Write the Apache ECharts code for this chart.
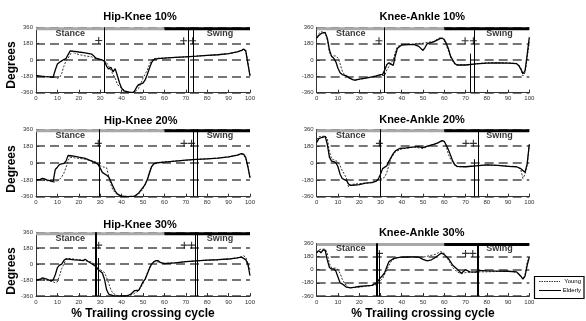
<!DOCTYPE html>
<html><head><meta charset="utf-8">
<script src="https://cdn.jsdelivr.net/npm/echarts@6/dist/echarts.min.js"></script>
<style>html,body{margin:0;padding:0;background:#fff}#c{width:586px;height:321px}</style>
</head><body><div id="c"></div>
<script>
const titles = ['Hip-Knee 10%','Knee-Ankle 10%','Hip-Knee 20%','Knee-Ankle 20%','Hip-Knee 30%','Knee-Ankle 30%'];
const xTickStep = 10;
const yTicks = [-360,-180,0,180,360];
const phaseLabels = [['Stance',16],['Swing',86]];
const legendNames = ['Young','Elderly'];
const xAxisTitle = '% Trailing crossing cycle';
const yAxisTitle = 'Degrees';

const hk10Elderly = [[0,-170],[2,-178],[4,-182],[6,-185],[8,-190],[9,-110],[10,-45],[11,-25],[12,-10],[13,5],[14,15],[15,60],[16,100],[18,95],[20,88],[23,78],[26,65],[27,45],[28,20],[30,8],[31,0],[32,-15],[33,-70],[34,-100],[35,-80],[36,-130],[37,-95],[38,-170],[39,-250],[40,-310],[41,-340],[43,-350],[45,-360],[46,-345],[47,-300],[48,-270],[50,-255],[51,-220],[52,-160],[53,-90],[54,-30],[55,5],[57,15],[60,20],[65,28],[70,35],[75,42],[80,50],[85,58],[90,70],[94,90],[96,105],[97,120],[98,105],[99,-40],[100,-175]];
const hk10Young = [[0,-172],[3,-178],[6,-183],[8,-188],[10,-200],[11,-195],[12,-150],[13,-70],[14,-10],[15,20],[16,60],[17,100],[18,75],[20,60],[23,45],[26,35],[29,5],[31,0],[32,-5],[33,-30],[35,-110],[36,-160],[37,-200],[38,-270],[40,-310],[42,-345],[44,-360],[46,-355],[48,-310],[49,-260],[50,-200],[52,-110],[53,-50],[54,0],[55,15],[57,20],[60,22],[65,28],[70,35],[75,42],[80,50],[85,58],[90,70],[94,88],[96,100],[97,115],[98,95],[99,-20],[100,-170]];
const ka10Elderly = [[0,240],[1,270],[2,290],[3,300],[4,300],[5,240],[6,110],[7,40],[8,20],[9,-20],[10,-90],[11,-140],[12,-160],[14,-175],[15,-190],[16,-205],[17,-215],[18,-222],[20,-210],[23,-200],[26,-185],[28,-175],[30,-160],[31,-158],[32,-110],[33,-50],[34,-30],[35,-45],[36,-60],[37,50],[38,130],[40,165],[43,170],[46,170],[48,150],[50,105],[51,140],[52,180],[55,200],[58,235],[59,240],[60,225],[61,180],[62,120],[63,40],[64,0],[65,-40],[66,-55],[70,-55],[75,-42],[80,-35],[85,-32],[90,-35],[94,-40],[95,-60],[96,-100],[97,-150],[98,-120],[99,60],[100,250]];
const ka10Young = [[0,250],[1,290],[2,310],[4,305],[5,220],[6,80],[7,40],[8,45],[9,45],[10,20],[11,-40],[12,-120],[13,-160],[14,-185],[16,-210],[18,-225],[20,-215],[23,-200],[26,-190],[30,-172],[32,-170],[33,-110],[34,-70],[35,-30],[36,0],[37,90],[38,150],[40,168],[45,178],[50,185],[55,205],[58,245],[59,245],[60,215],[62,100],[63,30],[64,-20],[65,-45],[66,-55],[70,-55],[75,-42],[80,-30],[85,-30],[90,-32],[94,-38],[95,-55],[96,-90],[97,-175],[98,-140],[99,20],[100,200]];
const hk20Elderly = [[0,-180],[2,-175],[3,-165],[4,-170],[5,-180],[7,-190],[8,-200],[9,-70],[10,-45],[11,-15],[13,-5],[14,20],[15,80],[17,75],[20,62],[23,50],[26,20],[28,0],[29,-15],[30,-55],[31,-100],[33,-130],[34,-150],[35,-200],[36,-250],[37,-300],[38,-330],[40,-355],[43,-360],[46,-355],[48,-320],[49,-290],[50,-260],[51,-230],[52,-180],[53,-110],[54,-40],[55,-10],[56,0],[60,10],[65,20],[70,30],[75,38],[80,45],[85,52],[90,65],[94,85],[96,100],[97,95],[98,60],[99,-40],[100,-160]];
const hk20Young = [[0,-182],[3,-185],[6,-190],[8,-205],[9,-200],[10,-190],[11,-175],[12,-150],[13,-110],[14,-50],[15,30],[16,60],[18,55],[20,50],[23,40],[26,25],[28,10],[29,-15],[30,-30],[31,-40],[32,-45],[33,-50],[34,-150],[35,-230],[36,-290],[38,-340],[40,-360],[45,-360],[47,-350],[48,-330],[50,-280],[51,-220],[52,-170],[53,-90],[54,-40],[55,-15],[57,5],[60,12],[65,20],[70,30],[75,38],[80,45],[85,52],[90,65],[94,82],[96,95],[97,90],[98,50],[99,-30],[100,-150]];
const ka20Elderly = [[0,220],[1,260],[2,270],[3,275],[4,285],[5,200],[6,60],[7,20],[8,15],[9,5],[10,-40],[11,-120],[12,-165],[13,-178],[14,-185],[15,-225],[16,-240],[18,-235],[20,-230],[23,-215],[26,-210],[28,-195],[29,-170],[30,-120],[31,-60],[33,-30],[34,20],[35,60],[36,100],[37,130],[39,155],[42,162],[45,170],[48,175],[50,165],[52,180],[55,200],[57,215],[59,240],[60,230],[61,190],[62,140],[63,80],[64,20],[65,-20],[66,-35],[70,-40],[75,-30],[80,-20],[85,-25],[90,-35],[94,-40],[96,-60],[97,-80],[98,-100],[99,-10],[100,200]];
const ka20Young = [[0,250],[1,280],[3,285],[4,290],[5,260],[6,120],[7,45],[8,35],[9,25],[10,10],[11,-30],[12,-80],[13,-120],[14,-160],[15,-255],[16,-230],[18,-225],[20,-220],[23,-215],[26,-205],[28,-190],[30,-170],[31,-165],[32,-150],[33,-100],[34,-20],[35,50],[37,120],[40,150],[43,160],[46,170],[50,155],[53,185],[56,205],[59,235],[60,230],[61,170],[62,90],[63,40],[64,10],[65,-25],[66,-40],[70,-40],[75,-28],[80,-22],[85,-25],[90,-32],[94,-38],[95,-50],[96,-70],[97,-165],[98,-120],[99,-20],[100,190]];
const hk30Elderly = [[0,-180],[2,-170],[3,-155],[5,-170],[7,-190],[8,-180],[9,-120],[10,-40],[11,-10],[12,0],[13,40],[14,60],[16,55],[18,48],[20,45],[22,40],[23,55],[24,35],[26,5],[28,-25],[29,-60],[30,-80],[31,-100],[32,-170],[33,-290],[34,-340],[36,-355],[40,-360],[42,-360],[44,-345],[46,-300],[48,-295],[49,-250],[50,-200],[51,-170],[52,-110],[53,-50],[54,0],[55,25],[56,40],[57,40],[58,20],[60,5],[65,15],[70,28],[75,38],[80,45],[85,50],[90,58],[94,72],[96,80],[97,65],[98,50],[99,0],[100,-130]];
const hk30Young = [[0,-180],[3,-178],[6,-185],[8,-200],[9,-210],[10,-200],[11,-130],[12,-50],[13,0],[14,55],[15,65],[17,60],[20,50],[23,40],[26,25],[28,-20],[30,-60],[31,-80],[32,-95],[33,-150],[34,-220],[35,-290],[36,-330],[38,-355],[40,-360],[44,-355],[46,-330],[48,-300],[50,-220],[51,-170],[52,-100],[53,-40],[54,0],[55,30],[57,25],[60,10],[65,15],[70,28],[75,38],[80,45],[85,50],[90,58],[94,70],[96,85],[97,95],[98,80],[99,10],[100,-60]];
const ka30Elderly = [[0,230],[1,260],[2,230],[3,270],[4,265],[5,130],[6,30],[7,10],[8,10],[9,-20],[10,-100],[11,-180],[12,-195],[13,-215],[14,-240],[16,-248],[18,-240],[20,-230],[23,-222],[26,-215],[28,-185],[29,-150],[30,-110],[31,-80],[32,-40],[33,40],[34,110],[36,150],[38,165],[40,170],[45,175],[48,170],[50,140],[52,120],[54,135],[56,170],[58,215],[59,225],[60,205],[62,150],[64,60],[66,10],[67,-20],[68,-50],[70,0],[72,-30],[75,-35],[76,-10],[80,-18],[85,-20],[90,-22],[94,-30],[95,-60],[96,-90],[97,-130],[98,-90],[99,60],[100,170]];
const ka30Young = [[0,240],[1,270],[2,280],[4,280],[5,220],[6,80],[7,25],[8,20],[9,20],[10,0],[11,-50],[12,-130],[13,-180],[14,-215],[15,-245],[18,-245],[20,-238],[23,-228],[26,-215],[28,-205],[29,-180],[30,-150],[31,-120],[32,-60],[33,0],[34,60],[35,110],[37,160],[40,170],[45,180],[48,175],[50,170],[53,190],[56,210],[58,245],[59,240],[60,220],[62,130],[64,30],[66,-30],[68,-55],[70,-40],[72,-35],[75,-30],[80,-30],[85,-25],[90,-20],[94,-35],[95,-55],[96,-90],[97,-130],[98,-70],[99,100],[100,180]];

// vertical event lines: [x, top value, bottom value]
const hk10Events = [[32,360,-360],[71.3,360,-360],[73.6,360,-360]];
const ka10Events = [[31.8,360,-360],[72.3,70,-360],[74.2,360,-360]];
const hk20Events = [[29.6,360,-360],[73.5,360,-360],[75.5,360,-360]];
const ka20Events = [[29.8,360,-360],[74.2,40,-360],[76,360,-360]];
const hk30Events = [[27.6,360,-360],[28.3,360,-360],[28.9,70,-360],[74.6,360,-360],[75.4,360,-360]];
const ka30Events = [[28,360,-360],[28.6,360,-360],[29.3,230,-360],[75.3,360,-360],[76,360,-360]];
// '+' markers
const hk10Marks = [[29.3,215],[69,212],[73.2,212]];
const ka10Marks = [[29.3,212],[69.8,212],[73.7,212]];
const hk20Marks = [[29.1,210],[69.2,210],[72.7,210]];
const ka20Marks = [[29.5,210],[70.2,210],[73.7,210]];
const hk30Marks = [[29.3,215],[69.3,215],[72.7,215]];
const ka30Marks = [[29.5,222],[70,222],[73.4,222]];
const stanceEnd = 60;

const FONT = '"Liberation Sans", Arial, Helvetica, sans-serif';
const layout = [
  {grid:{left:36,top:27.3,width:214,height:65.4}, tx:140, ty:16.7, yl:65, bottom:false, left:true},
  {grid:{left:316.7,top:27.3,width:212.6,height:65.4}, tx:422.3, ty:16.7, bottom:false, left:false},
  {grid:{left:36,top:129.3,width:214,height:67.4}, tx:140.8, ty:120.7, yl:169, bottom:false, left:true},
  {grid:{left:316.7,top:129.3,width:212.6,height:67.4}, tx:422, ty:120.3, bottom:false, left:false},
  {grid:{left:36,top:232.3,width:214,height:67}, tx:140, ty:225, yl:271, bottom:true, left:true},
  {grid:{left:316.7,top:243.3,width:212.6,height:56}, tx:421.7, ty:233.3, bottom:true, left:false}
];
const youngSets = [hk10Young,ka10Young,hk20Young,ka20Young,hk30Young,ka30Young];
const elderSets = [hk10Elderly,ka10Elderly,hk20Elderly,ka20Elderly,hk30Elderly,ka30Elderly];
const eventSets = [hk10Events,ka10Events,hk20Events,ka20Events,hk30Events,ka30Events];
const markSets = [hk10Marks,ka10Marks,hk20Marks,ka20Marks,hk30Marks,ka30Marks];

const plusPath = 'path://M0,42L100,42L100,58L0,58ZM42,0L58,0L58,100L42,100Z';
const grids=[], xAxes=[], yAxes=[], series=[], graphics=[];
layout.forEach((p,i)=>{
  grids.push(Object.assign({containLabel:false}, p.grid));
  xAxes.push({type:'value', gridIndex:i, min:0, max:100, interval:xTickStep,
    axisLine:{show:true,onZero:false,lineStyle:{color:'#333',width:1}},
    axisTick:{show:true,inside:true,length:3,lineStyle:{color:'#333'}},
    axisLabel:{fontSize:6,color:'#333',margin:3,fontFamily:FONT},
    splitLine:{show:false},
    name: p.bottom ? xAxisTitle : '', nameLocation:'middle', nameGap:12,
    nameTextStyle:{fontSize:12,fontWeight:'bold',color:'#000',fontFamily:FONT}});
  yAxes.push({type:'value', gridIndex:i, min:yTicks[0], max:yTicks[yTicks.length-1], interval:180,
    axisLine:{show:true,onZero:false,lineStyle:{color:'#333',width:1}},
    axisTick:{show:true,inside:true,length:3,lineStyle:{color:'#333'}},
    axisLabel:{fontSize:6,color:'#333',margin:3,fontFamily:FONT},
    splitLine:{show:true,lineStyle:{color:'#4a4a4a',type:[9,5],width:1.5}}});
  series.push({type:'line', name:legendNames[0], xAxisIndex:i, yAxisIndex:i, data:youngSets[i], symbol:'none', silent:true, z:3,
    lineStyle:{color:'#333',width:1,type:[2,1.5]}});
  series.push({type:'line', name:legendNames[1], xAxisIndex:i, yAxisIndex:i, data:elderSets[i], symbol:'none', silent:true, z:4,
    lineStyle:{color:'#000',width:1.3}});
  series.push({type:'line', xAxisIndex:i, yAxisIndex:i, data:[[0,345],[stanceEnd,345]], symbol:'none', silent:true, z:5,
    lineStyle:{color:'#a8a8a8',width:3,cap:'butt'}});
  series.push({type:'line', xAxisIndex:i, yAxisIndex:i, data:[[stanceEnd,345],[100,345]], symbol:'none', silent:true, z:5,
    lineStyle:{color:'#000',width:3,cap:'butt'}});
  series.push({type:'lines', coordinateSystem:'cartesian2d', xAxisIndex:i, yAxisIndex:i, silent:true, z:6,
    data: eventSets[i].map(e=>({coords:[[e[0],e[1]],[e[0],e[2]]]})),
    lineStyle:{color:'#000',width:1,opacity:1}});
  series.push({type:'scatter', xAxisIndex:i, yAxisIndex:i, data:markSets[i], symbol:plusPath, symbolSize:7, silent:true, z:7,
    itemStyle:{color:'#000'}});
  series.push({type:'scatter', xAxisIndex:i, yAxisIndex:i, silent:true, z:8, symbolSize:1,
    data: phaseLabels.map(l=>({value:[l[1],290], name:l[0]})),
    itemStyle:{color:'transparent'},
    label:{show:true, position:'inside', formatter:'{b}', fontSize:9, fontWeight:'bold', color:'#000', fontFamily:FONT}});
  graphics.push({type:'text', x:p.tx, y:p.ty, silent:true,
    style:{text:titles[i], font:'bold 11px '+FONT, fill:'#000', align:'center', verticalAlign:'middle', textAlign:'center', textVerticalAlign:'middle'}});
  if (p.left) {
    graphics.push({type:'text', x:12, y:p.yl, rotation:Math.PI/2, silent:true,
      style:{text:yAxisTitle, font:'bold 12px '+FONT, fill:'#000', align:'center', verticalAlign:'middle', textAlign:'center', textVerticalAlign:'middle'}});
  }
});
// legend box
graphics.push({type:'rect', shape:{x:534.5,y:276.5,width:49.5,height:22}, style:{fill:'#fff',stroke:'#000',lineWidth:1.2}, z:100});
graphics.push({type:'line', shape:{x1:539,y1:281.5,x2:560,y2:281.5}, style:{stroke:'#333',lineWidth:1,lineDash:[1.5,1]}, z:101});
graphics.push({type:'line', shape:{x1:539,y1:290.5,x2:561,y2:290.5}, style:{stroke:'#000',lineWidth:1}, z:101});
graphics.push({type:'text', x:581, y:281.7, z:101, style:{text:legendNames[0], font:'6px '+FONT, fill:'#000', align:'right', verticalAlign:'middle', textAlign:'right', textVerticalAlign:'middle'}});
graphics.push({type:'text', x:581, y:290.7, z:101, style:{text:legendNames[1], font:'6px '+FONT, fill:'#000', align:'right', verticalAlign:'middle', textAlign:'right', textVerticalAlign:'middle'}});

const chart = echarts.init(document.getElementById('c'), null, {renderer:'canvas'});
chart.setOption({
  animation:false, backgroundColor:'#fff',
  grid:grids, xAxis:xAxes, yAxis:yAxes, series:series, graphic:graphics
});
</script></body></html>
